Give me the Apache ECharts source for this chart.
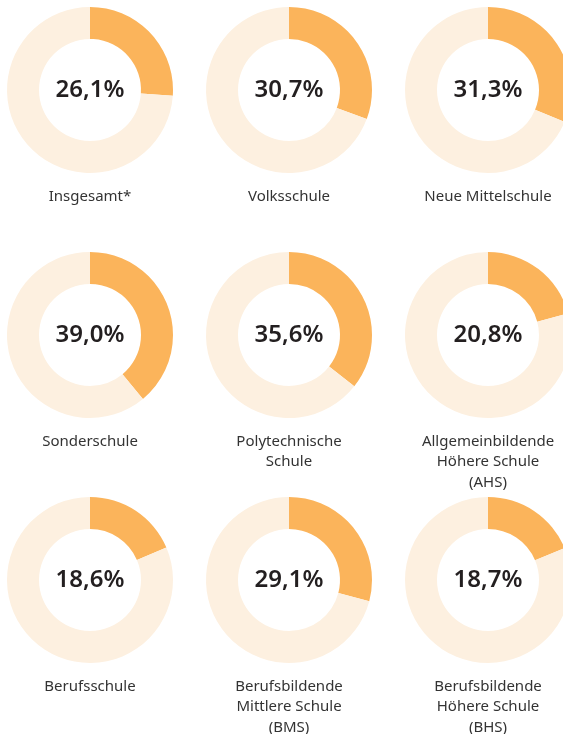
<!DOCTYPE html>
<html>
<head>
<meta charset="utf-8">
<script src="https://cdn.jsdelivr.net/npm/echarts@6/dist/echarts.min.js"></script>
<style>
  html, body { margin: 0; padding: 0; background: #fff; }
  #chart { width: 563px; height: 734px; }
</style>
</head>
<body>
<div id="chart"></div>
<script>
// share per school type, in percent
const schoolTypes = [
    'Insgesamt*',
    'Volksschule',
    'Neue Mittelschule',
    'Sonderschule',
    'Polytechnische\nSchule',
    'Allgemeinbildende\nHöhere Schule\n(AHS)',
    'Berufsschule',
    'Berufsbildende\nMittlere Schule\n(BMS)',
    'Berufsbildende\nHöhere Schule\n(BHS)',
];
const shares = [26.1, 30.7, 31.3, 39.0, 35.6, 20.8, 18.6, 29.1, 18.7];

const colX = [90, 289, 488];
const rowY = [90, 335, 580];
const ORANGE = '#fbb45b';
const LIGHT = '#fdf0e0';

function formatShare(v) {
    return v.toFixed(1).replace('.', ',') + '%';
}

function buildOption() {
    const series = [];
    const labels = [];
    shares.forEach((v, i) => {
        const cx = colX[i % 3];
        const cy = rowY[Math.floor(i / 3)];
        series.push({
            type: 'pie',
            silent: true,
            center: [cx, cy],
            radius: [51, 83],
            startAngle: 90,
            clockwise: true,
            animation: false,
            label: {
                show: true,
                position: 'center',
                formatter: () => formatShare(v),
                fontFamily: 'Noto Sans',
                fontSize: 24,
                fontWeight: 600,
                color: '#231f20',
            },
            labelLine: { show: false },
            data: [
                { value: v, itemStyle: { color: ORANGE } },
                { value: 100 - v, itemStyle: { color: LIGHT }, label: { show: false } },
            ],
        });
        labels.push({
            type: 'text',
            x: cx,
            y: cy + 96,
            style: {
                text: schoolTypes[i],
                textAlign: 'center',
                textVerticalAlign: 'top',
                fontFamily: 'Noto Sans',
                fontSize: 15,
                lineHeight: 20.5,
                fill: '#333333',
            },
        });
    });
    return { series: series, graphic: labels };
}

const chart = echarts.init(document.getElementById('chart'));
chart.setOption(buildOption());
</script>
</body>
</html>
